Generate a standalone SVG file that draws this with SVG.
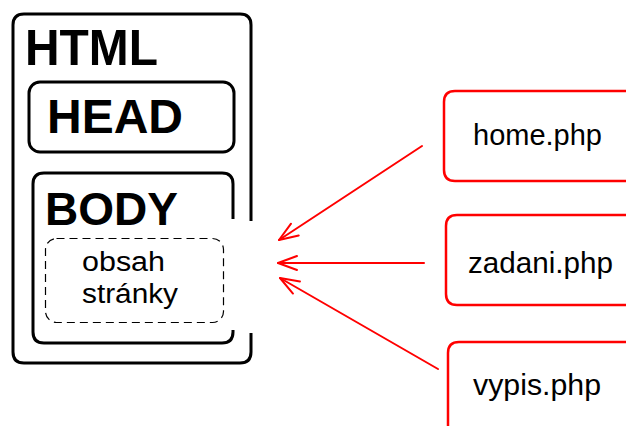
<svg xmlns="http://www.w3.org/2000/svg" width="626" height="426" viewBox="0 0 626 426">
  <style>
    .blk { fill: none; stroke: #000; stroke-width: 3; }
    .dash { fill: none; stroke: #000; stroke-width: 1.2; stroke-dasharray: 8 5; }
    .red { fill: none; stroke: #f00; stroke-width: 2.5; }
    .wire { fill: none; stroke: #f00; stroke-width: 2; stroke-linecap: round; }
    .big { font-family: "Liberation Sans", Arial, sans-serif; font-weight: bold; fill: #000; }
    .txt { font-family: "Liberation Sans", Arial, sans-serif; fill: #000; }
  </style>
  <defs>
    <!-- open V arrowhead, tip at the end of the line -->
    <marker id="openArrow" markerWidth="26" markerHeight="26" refX="22" refY="13" orient="auto" markerUnits="userSpaceOnUse">
      <path d="M3 6 L22 13 L3 20" fill="none" stroke="#f00" stroke-width="2" stroke-linecap="round" stroke-linejoin="round"/>
    </marker>
  </defs>
  <rect width="626" height="426" fill="#fff"/>

  <!-- page skeleton: HTML / HEAD / BODY -->
  <g id="html">
    <path class="blk" d="M251 221 V25 Q251 14 240 14 H24 Q13 14 13 25 V352 Q13 363 24 363 H240 Q251 363 251 352 V333"/>
    <text class="big" x="25" y="65" font-size="50" textLength="133" lengthAdjust="spacingAndGlyphs">HTML</text>
  </g>
  <g id="head">
    <rect class="blk" x="29" y="82" width="205" height="70" rx="11"/>
    <text class="big" x="47" y="133" font-size="48" textLength="136" lengthAdjust="spacingAndGlyphs">HEAD</text>
  </g>
  <g id="body">
    <path class="blk" d="M233 219 V184 Q233 173 222 173 H44 Q33 173 33 184 V332 Q33 343 44 343 H222 Q233 343 233 332 V330"/>
    <text class="big" x="45" y="225" font-size="47" textLength="133" lengthAdjust="spacingAndGlyphs">BODY</text>
  </g>
  <g id="content">
    <rect class="dash" x="45.5" y="238.5" width="178" height="84" rx="11"/>
    <text class="txt" x="82" y="271" font-size="27" textLength="83" lengthAdjust="spacingAndGlyphs">obsah</text>
    <text class="txt" x="82" y="303" font-size="27" textLength="96" lengthAdjust="spacingAndGlyphs">stránky</text>
  </g>

  <!-- included PHP files -->
  <g id="home">
    <path class="red" d="M630 91 H455 Q444 91 444 102 V170 Q444 181 455 181 H630"/>
    <text class="txt" x="473" y="145" font-size="29" textLength="129" lengthAdjust="spacingAndGlyphs">home.php</text>
  </g>
  <g id="zadani">
    <path class="red" d="M630 215 H457 Q446 215 446 226 V294 Q446 305 457 305 H630"/>
    <text class="txt" x="468" y="273" font-size="29" textLength="145" lengthAdjust="spacingAndGlyphs">zadani.php</text>
  </g>
  <g id="vypis">
    <path class="red" d="M630 342 H459 Q448 342 448 353 V430"/>
    <text class="txt" x="473" y="395" font-size="29" textLength="128" lengthAdjust="spacingAndGlyphs">vypis.php</text>
  </g>

  <g id="connectors">
    <line class="wire" x1="422" y1="146" x2="279" y2="240" marker-end="url(#openArrow)"/>
    <line class="wire" x1="424" y1="263" x2="278" y2="263" marker-end="url(#openArrow)"/>
    <line class="wire" x1="438" y1="369" x2="280" y2="278" marker-end="url(#openArrow)"/>
  </g>
</svg>
